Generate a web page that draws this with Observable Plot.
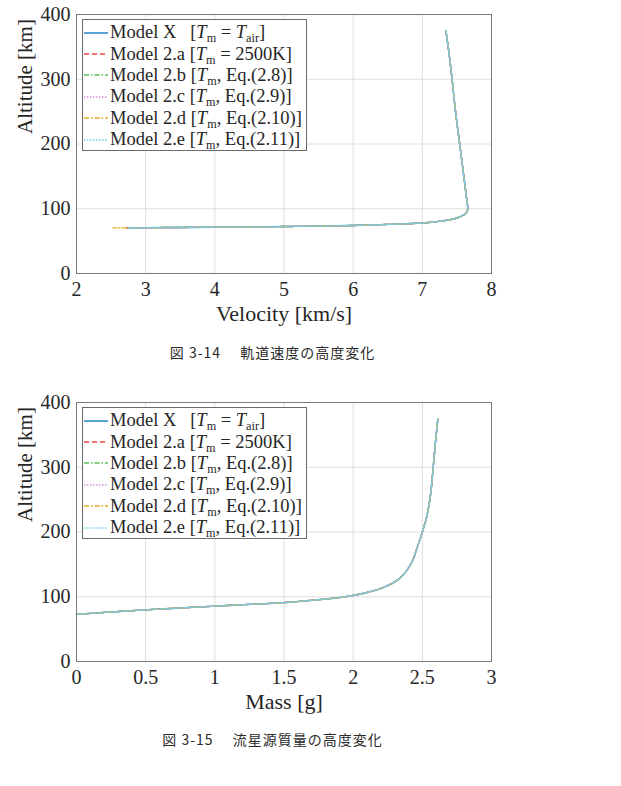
<!DOCTYPE html>
<html>
<head>
<meta charset="utf-8">
<script src="https://cdn.jsdelivr.net/npm/d3@7"></script>
<script src="https://cdn.jsdelivr.net/npm/@observablehq/plot@0.6"></script>
<style>
  html, body { margin: 0; padding: 0; background: #fff; }
  #page { position: relative; width: 621px; height: 786px; overflow: hidden; }
  .chart { position: absolute; left: 0; }
  .chart text { font-family: "Liberation Serif", serif; }
  .legend {
    position: absolute; left: 82px; width: 225px; box-sizing: border-box;
    border: 1px solid #6b6b6b; background: #fff; padding: 2px 0 0 1px;
    font-family: "Liberation Serif", serif; font-size: 18.5px; color: #262626;
  }
  .legend .row { display: flex; align-items: center; height: 21.4px; white-space: nowrap; }
  .legend svg { flex: none; margin-right: 2px; }
  .legend sub { font-size: 0.66em; vertical-align: -0.3em; line-height: 0; }
  .caption {
    position: absolute; left: 0; width: 545px; text-align: center;
    font-family: "Noto Sans CJK JP", sans-serif; font-weight: 400;
    font-size: 14px; color: #2a2a2a; letter-spacing: 1px;
  }
</style>
</head>
<body>
<div id="page"></div>
<script>
// Model names, line colours and dash patterns
const modelNames = ["Model X", "Model 2.a", "Model 2.b", "Model 2.c", "Model 2.d", "Model 2.e"];
const modelLabels = [
  "Model X&ensp;&nbsp;[<i>T</i><sub>m</sub> = <i>T</i><sub>air</sub>]",
  "Model 2.a [<i>T</i><sub>m</sub> = 2500K]",
  "Model 2.b [<i>T</i><sub>m</sub>, Eq.(2.8)]",
  "Model 2.c [<i>T</i><sub>m</sub>, Eq.(2.9)]",
  "Model 2.d [<i>T</i><sub>m</sub>, Eq.(2.10)]",
  "Model 2.e [<i>T</i><sub>m</sub>, Eq.(2.11)]"
];
const modelColors = ["#0072BD", "#E8483E", "#5CC05C", "#D48FD8", "#E8A820", "#6FD0F0"];
const modelDashes = ["none", "5,3", "5,2,1.5,2", "1.5,1.5", "5,2,1.5,2", "1.5,1.5"];

// Altitude vs velocity (from entry at 375 km down to the end of the trail)
const velocityKmS = [7.34, 7.38, 7.43, 7.48, 7.54, 7.60, 7.635, 7.655, 7.652, 7.635, 7.59, 7.52, 7.40, 7.20, 7.00, 6.50, 6.00, 5.50, 5.00, 4.50, 4.00, 3.50, 3.00, 2.73];
const altitudeVelocityKm = [375, 345, 300, 250, 200, 150, 120, 103, 97, 93.5, 90, 86.5, 83, 80, 78, 75.8, 74.2, 73.3, 72.5, 72.0, 71.5, 71.1, 70.8, 70.6];
// Model 2.d keeps decelerating a little longer
const tailVelocity2d = [2.65, 2.53];
const tailAltitude2d = [70.5, 70.4];

// Altitude vs meteoroid mass
const massG = [0, 0.25, 0.5, 0.75, 1.0, 1.25, 1.5, 1.75, 1.91, 2.0, 2.1, 2.22, 2.32, 2.38, 2.43, 2.464, 2.5, 2.531, 2.56, 2.579, 2.596, 2.612];
const altitudeMassKm = [72.8, 76.5, 79.8, 82.7, 85.5, 88.2, 91, 95.5, 99, 102, 106.5, 114.5, 125.7, 138.5, 156, 177, 200, 223, 259, 301, 341, 374.5];

// Axis ticks
const velocityTicks = [2, 3, 4, 5, 6, 7, 8];
const massTicks = [0, 0.5, 1, 1.5, 2, 2.5, 3];
const altitudeTicks = [0, 100, 200, 300, 400];

const serif = "Liberation Serif";
const page = document.getElementById("page");

function seriesFor(xs, ys, model, extra) {
  const rows = xs.map((x, i) => ({x, y: ys[i], model}));
  if (extra) extra.x.forEach((x, i) => rows.push({x, y: extra.y[i], model}));
  return rows;
}

function makeChart({xs, ys, xDomain, xTicks, xLabel, tails}) {
  const lines = modelNames.map((m, i) =>
    Plot.line(seriesFor(xs, ys, m, tails[i]), {
      x: "x", y: "y", stroke: modelColors[i], strokeWidth: 1.4,
      strokeDasharray: modelDashes[i] === "none" ? null : modelDashes[i],
      curve: "catmull-rom"
    })
  );
  return Plot.plot({
    width: 621, height: 330,
    marginLeft: 76, marginRight: 130, marginTop: 14, marginBottom: 57,
    style: {fontFamily: serif, fontSize: "20px", color: "#262626", background: "#fff"},
    x: {domain: xDomain, ticks: xTicks},
    y: {domain: [0, 400], ticks: altitudeTicks},
    marks: [
      Plot.gridX(xTicks, {stroke: "#dedede", strokeOpacity: 1}),
      Plot.gridY(altitudeTicks, {stroke: "#dedede", strokeOpacity: 1}),
      Plot.axisX(xTicks, {tickSize: 0, tickPadding: 8, label: null, tickFormat: d => String(d), fontFamily: serif, fontSize: 20}),
      Plot.axisY(altitudeTicks, {tickSize: 0, tickPadding: 6, label: null, tickFormat: d => String(d), fontFamily: serif, fontSize: 20}),
      ...lines,
      Plot.frame({stroke: "#7a7a7a"}),
      Plot.text([xLabel], {frameAnchor: "bottom", dy: 47, fontSize: 22, fontFamily: serif, fill: "#262626"}),
      Plot.text(["Altitude [km]"], {frameAnchor: "left", rotate: -90, dx: -51, dy: -10, fontSize: 21, fontFamily: serif, fill: "#262626"})
    ]
  });
}

function addLegend(top) {
  const box = document.createElement("div");
  box.className = "legend";
  box.style.top = top + "px";
  modelNames.forEach((m, i) => {
    const row = document.createElement("div");
    row.className = "row";
    const dash = modelDashes[i] === "none" ? "" : `stroke-dasharray="${modelDashes[i]}"`;
    row.innerHTML = `<svg width="24" height="4"><line x1="0" x2="24" y1="2" y2="2" stroke="${modelColors[i]}" stroke-width="1.3" ${dash}/></svg><span>${modelLabels[i]}</span>`;
    box.appendChild(row);
  });
  page.appendChild(box);
}

function addCaption(text, top) {
  const c = document.createElement("div");
  c.className = "caption";
  c.style.top = top + "px";
  c.textContent = text;
  page.appendChild(c);
}

const tails1 = modelNames.map(m => m === "Model 2.d" ? {x: tailVelocity2d, y: tailAltitude2d} : null);
const chart1 = makeChart({
  xs: velocityKmS, ys: altitudeVelocityKm, xDomain: [2, 8], xTicks: velocityTicks,
  xLabel: "Velocity [km/s]", tails: tails1
});
chart1.classList.add("chart");
chart1.style.top = "0px";
page.appendChild(chart1);
addLegend(19);
addCaption("図 3-14\u3000 軌道速度の高度変化", 342);

const chart2 = makeChart({
  xs: massG, ys: altitudeMassKm, xDomain: [0, 3], xTicks: massTicks,
  xLabel: "Mass [g]", tails: modelNames.map(() => null)
});
chart2.classList.add("chart");
chart2.style.top = "388px";
page.appendChild(chart2);
addLegend(407);
addCaption("図 3-15\u3000 流星源質量の高度変化", 729);
</script>
</body>
</html>
